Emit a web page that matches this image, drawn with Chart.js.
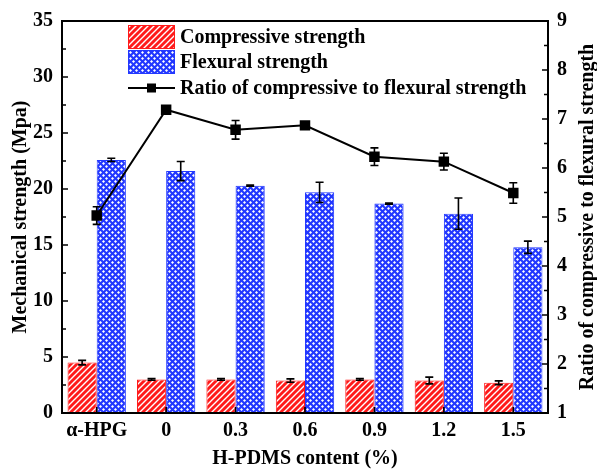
<!DOCTYPE html>
<html>
<head>
<meta charset="utf-8">
<script src="https://cdn.jsdelivr.net/npm/chart.js@4.4.1/dist/chart.umd.min.js"></script>
<style>
  html, body { margin: 0; padding: 0; background: #fff; }
</style>
</head>
<body>
<canvas id="c" width="597" height="469"></canvas>
<script>
const categories = ['α-HPG', '0', '0.3', '0.6', '0.9', '1.2', '1.5'];
const compressive = [4.5, 3.0, 3.0, 2.9, 3.0, 2.9, 2.7];
const compressiveErr = [0.2, 0.08, 0.08, 0.15, 0.08, 0.3, 0.17];
const flexural = [22.6, 21.6, 20.3, 19.7, 18.7, 17.8, 14.8];
const flexuralErr = [0.15, 0.85, 0.05, 0.9, 0.05, 1.4, 0.55];
const ratio = [5.03, 7.19, 6.78, 6.87, 6.23, 6.13, 5.49];
const ratioErr = [0.18, 0.03, 0.19, 0.05, 0.18, 0.17, 0.21];

const FONT = "'Liberation Serif', 'Times New Roman', serif";
const RED = '#ff1a1a';
const BLUE = '#2338ff';

// fill patterns
function stripes() {
  const c = document.createElement('canvas');
  c.width = 6; c.height = 6;
  const g = c.getContext('2d');
  g.fillStyle = RED; g.fillRect(0, 0, 6, 6);
  g.strokeStyle = '#fff'; g.lineWidth = 1.4;
  g.beginPath();
  g.moveTo(-1, 7); g.lineTo(7, -1);
  g.moveTo(-4, 4); g.lineTo(4, -4);
  g.moveTo(2, 10); g.lineTo(10, 2);
  g.stroke();
  return g.createPattern(c, 'repeat');
}
function dots() {
  const c = document.createElement('canvas');
  c.width = 6; c.height = 6;
  const g = c.getContext('2d');
  g.fillStyle = BLUE; g.fillRect(0, 0, 6, 6);
  g.fillStyle = '#fff';
  [[1.5, 1.5], [4.5, 4.5]].forEach(([x, y]) => {
    g.beginPath();
    g.moveTo(x, y - 1.5); g.lineTo(x + 1.5, y); g.lineTo(x, y + 1.5); g.lineTo(x - 1.5, y);
    g.closePath(); g.fill();
  });
  return g.createPattern(c, 'repeat');
}
const redFill = stripes();
const blueFill = dots();

const extras = {
  id: 'extras',
  afterDatasetsDraw(chart) {
    const ctx = chart.ctx;
    const y = chart.scales.y, y1 = chart.scales.y1;

    // error bars
    const errs = [compressiveErr, flexuralErr, ratioErr];
    const vals = [compressive, flexural, ratio];
    ctx.save();
    ctx.strokeStyle = '#000';
    ctx.lineWidth = 1.6;
    [0, 1, 2].forEach(di => {
      const meta = chart.getDatasetMeta(di);
      const sc = di === 2 ? y1 : y;
      meta.data.forEach((el, i) => {
        const e = errs[di][i];
        const hi = sc.getPixelForValue(vals[di][i] + e);
        const lo = sc.getPixelForValue(vals[di][i] - e);
        ctx.beginPath();
        ctx.moveTo(el.x, hi); ctx.lineTo(el.x, lo);
        ctx.moveTo(el.x - 4, hi); ctx.lineTo(el.x + 4, hi);
        ctx.moveTo(el.x - 4, lo); ctx.lineTo(el.x + 4, lo);
        ctx.stroke();
      });
    });
    ctx.restore();
  },
  afterDraw(chart) {
    const ctx = chart.ctx;
    const a = chart.chartArea;
    const y = chart.scales.y, y1 = chart.scales.y1, x = chart.scales.x;
    ctx.save();
    ctx.strokeStyle = '#000';
    ctx.lineWidth = 2;
    ctx.strokeRect(a.left, a.top, a.right - a.left, a.bottom - a.top);

    // inward ticks
    ctx.lineWidth = 1.6;
    ctx.beginPath();
    for (let v = 0; v <= 35; v += 2.5) {
      const p = y.getPixelForValue(v);
      const len = v % 5 === 0 ? 6 : 4;
      ctx.moveTo(a.left, p); ctx.lineTo(a.left + len, p);
    }
    for (let v = 1; v <= 9; v += 0.5) {
      const p = y1.getPixelForValue(v);
      const len = v % 1 === 0 ? 6 : 4;
      ctx.moveTo(a.right, p); ctx.lineTo(a.right - len, p);
    }
    categories.forEach((c, i) => {
      const p = x.getPixelForValue(i);
      ctx.moveTo(p, a.bottom); ctx.lineTo(p, a.bottom - 6);
    });
    ctx.stroke();

    // axis titles
    ctx.fillStyle = '#000';
    ctx.font = 'bold 20px ' + FONT;
    ctx.textAlign = 'center';
    ctx.textBaseline = 'middle';
    ctx.fillText('H-PDMS content (%)', (a.left + a.right) / 2, 459);
    ctx.save();
    ctx.translate(21, (a.top + a.bottom) / 2);
    ctx.rotate(-Math.PI / 2);
    ctx.fillText('Mechanical strength (Mpa)', 0, 0);
    ctx.restore();
    ctx.save();
    ctx.translate(588, (a.top + a.bottom) / 2);
    ctx.rotate(-Math.PI / 2);
    ctx.fillText('Ratio of compressive to flexural strength', 0, 0);
    ctx.restore();

    // legend
    const lx = 128, lw = 47;
    ctx.fillStyle = redFill;
    ctx.fillRect(lx, 25, lw, 24);
    ctx.strokeStyle = RED; ctx.lineWidth = 1;
    ctx.strokeRect(lx + 0.5, 25.5, lw - 1, 23);
    ctx.fillStyle = blueFill;
    ctx.fillRect(lx, 50, lw, 24);
    ctx.strokeStyle = BLUE;
    ctx.strokeRect(lx + 0.5, 50.5, lw - 1, 23);
    ctx.strokeStyle = '#000'; ctx.lineWidth = 2;
    ctx.beginPath(); ctx.moveTo(lx, 88); ctx.lineTo(lx + lw, 88); ctx.stroke();
    ctx.fillStyle = '#000';
    ctx.fillRect(lx + lw / 2 - 4.5, 88 - 4.5, 9, 9);
    ctx.textAlign = 'left';
    ctx.font = 'bold 20px ' + FONT;
    ctx.fillText('Compressive strength', 180, 38);
    ctx.fillText('Flexural strength', 180, 63);
    ctx.fillText('Ratio of compressive to flexural strength', 180, 89);
    ctx.restore();
  }
};

const tickFont = { family: FONT, size: 20, weight: 'bold' };

new Chart(document.getElementById('c'), {
  type: 'bar',
  data: {
    labels: categories,
    datasets: [
      {
        label: 'Compressive strength',
        data: compressive,
        backgroundColor: redFill,
        borderColor: RED,
        borderWidth: 1,
        yAxisID: 'y',
        order: 1
      },
      {
        label: 'Flexural strength',
        data: flexural,
        backgroundColor: blueFill,
        borderColor: BLUE,
        borderWidth: 1,
        yAxisID: 'y',
        order: 1
      },
      {
        type: 'line',
        label: 'Ratio of compressive to flexural strength',
        data: ratio,
        borderColor: '#000',
        backgroundColor: '#000',
        borderWidth: 2,
        pointStyle: 'rect',
        pointRadius: 6,
        yAxisID: 'y1',
        order: 0
      }
    ]
  },
  options: {
    responsive: false,
    animation: false,
    layout: { padding: { top: 20, left: 0, right: 0, bottom: 0 } },
    categoryPercentage: 0.84,
    barPercentage: 1,
    plugins: { legend: { display: false }, tooltip: { enabled: false } },
    scales: {
      x: {
        grid: { display: false, drawTicks: false },
        border: { display: false },
        ticks: { color: '#000', font: tickFont, padding: 6, maxRotation: 0 },
        afterFit(s) { s.height = 56; }
      },
      y: {
        position: 'left',
        min: 0, max: 35,
        grid: { display: false, drawTicks: false },
        border: { display: false },
        ticks: { stepSize: 5, color: '#000', font: tickFont, padding: 9 },
        afterFit(s) { s.width = 62; }
      },
      y1: {
        position: 'right',
        min: 1, max: 9,
        grid: { display: false, drawTicks: false },
        border: { display: false },
        ticks: { stepSize: 1, color: '#000', font: tickFont, padding: 9 },
        afterFit(s) { s.width = 49; }
      }
    }
  },
  plugins: [extras]
});
</script>
</body>
</html>
